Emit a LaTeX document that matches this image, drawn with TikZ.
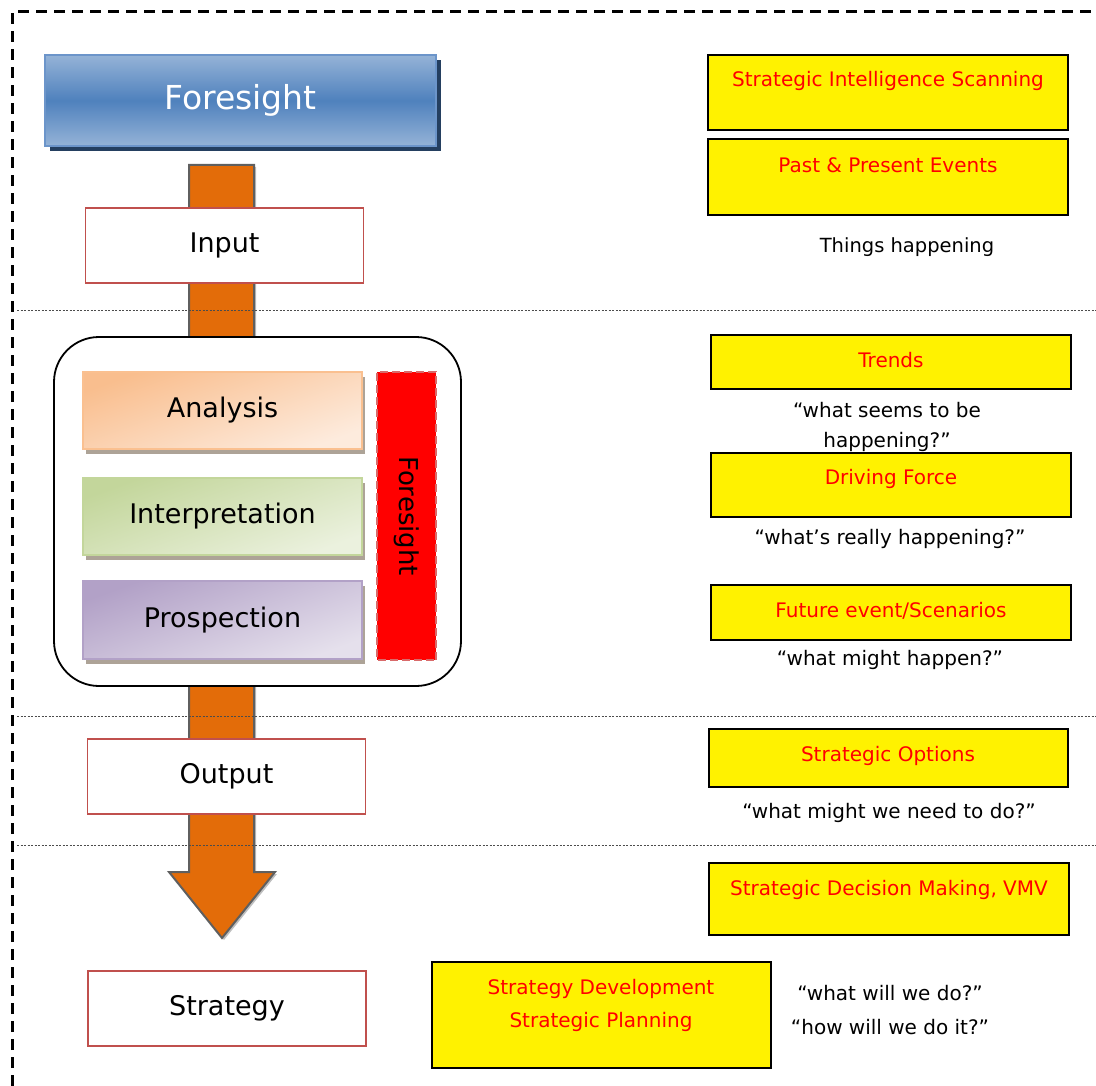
\documentclass[tikz,border=0pt]{standalone}
\usepackage{fontspec}
\setmainfont{DejaVu Sans}
\usetikzlibrary{calc,positioning,shadows}

\definecolor{arroworange}{HTML}{E36C09}
\definecolor{arrowedge}{HTML}{5F5F5F}
\definecolor{hdlight}{HTML}{95B3D7}
\definecolor{hddark}{HTML}{4F81BD}
\definecolor{hdedge}{HTML}{6C95CA}
\definecolor{hdshadow}{HTML}{243F60}
\definecolor{phaseedge}{HTML}{C0504D}
\definecolor{baredge}{HTML}{D96A6A}
\definecolor{anatop}{HTML}{F9BE8E}
\definecolor{anabot}{HTML}{FDEBDD}
\definecolor{anaedge}{HTML}{FAC090}
\definecolor{inttop}{HTML}{C3D69B}
\definecolor{intbot}{HTML}{EBF1DE}
\definecolor{intedge}{HTML}{C3D69B}
\definecolor{protop}{HTML}{B2A1C7}
\definecolor{probot}{HTML}{E5E0EC}
\definecolor{proedge}{HTML}{B2A1C7}
\definecolor{stageshadow}{HTML}{A59A8C}

\tikzset{
  flowarrow/.style={fill=arroworange, draw=arrowedge, line width=2pt, line join=miter,
    drop shadow={shadow xshift=2pt, shadow yshift=-2pt, fill=black!25, opacity=1}},
  header/.style={top color=hdlight, bottom color=hdlight, middle color=hddark, draw=hdedge,
    line width=2pt, minimum width=391, minimum height=91, inner sep=0pt, text=white,
    font=\fontsize{33}{40}\selectfont,
    drop shadow={shadow xshift=5pt, shadow yshift=-5pt, fill=hdshadow, opacity=1}},
  phase/.style={draw=phaseedge, line width=1.2pt, fill=white, minimum width=278,
    minimum height=75, inner sep=0pt, font=\fontsize{27}{32}\selectfont},
  stage/.style={line width=1.8pt, minimum width=279, minimum height=77, inner sep=0pt,
    font=\fontsize{27}{32}\selectfont,
    drop shadow={shadow xshift=3pt, shadow yshift=-5pt, fill=stageshadow, opacity=0.9}},
  fbar/.style={fill=red, draw=baredge, dash pattern=on 8pt off 4pt, line width=2pt,
    minimum width=288, minimum height=59, inner sep=0pt, font=\fontsize{26}{30}\selectfont},
  ybox/.style={draw=black, line width=2.2pt, fill=yellow, minimum width=360, inner sep=0pt},
  redtxt/.style={text=red, font=\fontsize{20}{33}\selectfont, align=center, inner sep=0pt},
  blktxt/.style={text=black, font=\fontsize{20}{30}\selectfont, align=center, inner sep=0pt},
  sepline/.style={black!70, line width=0.8pt, dash pattern=on 2pt off 1.5pt},
}

\begin{document}
\begin{tikzpicture}[x=1pt, y=-1pt]
	%%%%% START %%%%%
	\useasboundingbox (0,0) rectangle (1096,1086);

	\draw[line width=3pt, dash pattern=on 11pt off 7pt] (12,1086) -- (12,12) -- (1096,12);

	\draw[flowarrow] (189,165) -- (254,165) -- (254,872) -- (275,872) -- (222,938) -- (169,872) -- (189,872) -- cycle;

	\foreach \yy in {310,716,845}
		\draw[sepline] (17,\yy) -- (1096,\yy);

	\node[header] (fore) at (240.5,100.5) {Foresight};

	\node[phase] (input) at (224.5,245.5) {\raisebox{5pt}{Input}};
	\node[phase] (output) at (226.5,776.5) {\raisebox{5pt}{Output}};
	\node[phase] (strategy) at (227,1008.5) {\raisebox{5pt}{Strategy}};

	\draw[line width=1.8pt, fill=white, rounded corners=45pt] (54,337) rectangle (461,686);

	\node[stage, draw=anaedge, top color=anatop, bottom color=anabot, shading angle=20] (analysis) at (222.5,410.5) {\raisebox{6pt}{Analysis}};
	\node[stage, draw=intedge, top color=inttop, bottom color=intbot, shading angle=20] (interp) at (222.5,516.5) {\raisebox{6pt}{Interpretation}};
	\node[stage, draw=proedge, top color=protop, bottom color=probot, shading angle=20, minimum height=78] (prosp) at (222.5,620) {\raisebox{6pt}{Prospection}};
	\node[fbar, rotate=-90] (bar) at (406.5,516) {Foresight};

	% right column
	\node[ybox, minimum height=75] (scan) at (888,92.5) {};
	\node[redtxt] (scanT) at (888,81) {Strategic Intelligence Scanning};
	\node[ybox, minimum height=76] (events) at (888,177) {};
	\node[redtxt] (eventsT) at (888,165) {Past \& Present Events};
	\node[blktxt, font=\fontsize{19.5}{30}\selectfont] (things) at (907,247) {Things happening};

	\node[ybox, minimum height=54] (trends) at (891,362) {};
	\node[redtxt] (trendsT) at (891,360) {Trends};
	\node[blktxt] (seems) at (887,427) {“what seems to be\\happening?”};
	\node[ybox, minimum height=64] (drive) at (891,485) {};
	\node[redtxt] (driveT) at (891,479) {Driving Force};
	\node[blktxt] (really) at (890,539) {“what’s really happening?”};
	\node[ybox, minimum height=55] (future) at (891,612.5) {};
	\node[redtxt] (futureT) at (891,611) {Future event/Scenarios};
	\node[blktxt] (might) at (890,660) {“what might happen?”};

	\node[ybox, minimum width=359, minimum height=58] (options) at (888.5,758) {};
	\node[redtxt] (optionsT) at (888,756) {Strategic Options};
	\node[blktxt] (need) at (889,813) {“what might we need to do?”};
	\node[ybox, minimum height=72] (decide) at (889,899) {};
	\node[redtxt] (decideT) at (889,890) {Strategic Decision Making, VMV};
	\node[ybox, minimum width=339, minimum height=106] (develop) at (601.5,1015) {};
	\node[redtxt] (developT) at (601,1005) {Strategy Development\\Strategic Planning};
	\node[blktxt, font=\fontsize{20}{34}\selectfont] (willdo) at (890,1010) {“what will we do?”\\“how will we do it?”};
	%%%%% END %%%%%
\end{tikzpicture}
\end{document}
